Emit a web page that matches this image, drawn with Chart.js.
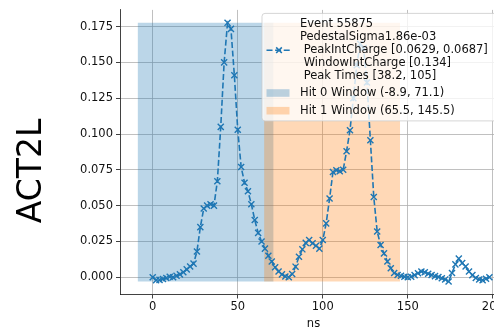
<!DOCTYPE html>
<html>
<head>
<meta charset="utf-8">
<script src="https://cdn.jsdelivr.net/npm/chart.js@4.4.1/dist/chart.umd.min.js"></script>
<style>
  html, body { margin: 0; padding: 0; background: #fff; overflow: hidden; }
  #wrap { width: 494px; height: 329px; overflow: hidden; }
</style>
</head>
<body>
<div id="wrap"><canvas id="wave" width="520" height="329"></canvas></div>
<script>
// waveform samples (ns) and integrated charge
const timeNs = [
  0, 2, 4, 6, 8, 10, 12, 14, 16, 18, 20, 22, 24, 26, 28, 30, 32, 34, 36, 38,
  40, 42, 44, 46, 48, 50, 52, 54, 56, 58, 60, 62, 64, 66, 68, 70, 72, 74, 76, 78,
  80, 82, 84, 86, 88, 90, 92, 94, 96, 98, 100, 102, 104, 106, 108, 110, 112, 114, 116, 118,
  120, 122, 124, 126, 128, 130, 132, 134, 136, 138, 140, 142, 144, 146, 148, 150, 152, 154, 156, 158,
  160, 162, 164, 166, 168, 170, 172, 174, 176, 178, 180, 182, 184, 186, 188, 190, 192, 194, 196, 198
]
const charge = [
  0.000, -0.002, -0.0018, -0.0012, -0.0005, 0.0004, 0.000, 0.001, 0.002, 0.0035,
  0.0055, 0.0075, 0.0095, 0.018, 0.035, 0.048, 0.050, 0.051, 0.050, 0.067,
  0.105, 0.150, 0.1776, 0.1734, 0.141, 0.103, 0.077, 0.066, 0.060, 0.051,
  0.040, 0.031, 0.025, 0.020, 0.015, 0.011, 0.007, 0.004, 0.002, 0.0005,
  0.000, 0.0023, 0.0074, 0.0143, 0.0195, 0.024, 0.026, 0.0237, 0.022, 0.020,
  0.026, 0.0376, 0.055, 0.0735, 0.0747, 0.074, 0.075, 0.088, 0.1026, 0.125,
  0.148, 0.163, 0.160, 0.136, 0.0956, 0.056, 0.032, 0.0225, 0.0167, 0.011,
  0.0063, 0.003, 0.0016, 0.001, 0.0004, 0.000, 0.0004, 0.0015, 0.0028, 0.004,
  0.0035, 0.0025, 0.0016, 0.0008, 0.0002, -0.0007, -0.0015, -0.003, 0.003, 0.009,
  0.013, 0.010, 0.0075, 0.004, 0.0015, -0.0005, -0.0015, -0.002, -0.001, 0.000
]

// hit windows
const hitStart = [-8.9, 65.5]
const hitEnd = [71.1, 145.5]
const hitColors = ['rgba(31,119,180,0.3)', 'rgba(255,127,14,0.3)']

const infoLines = [
  'Event 55875',
  'PedestalSigma1.86e-03',
  ' PeakIntCharge [0.0629, 0.0687]',
  ' WindowIntCharge [0.134]',
  ' Peak Times [38.2, 105]'
]

const xTicks = [0, 50, 100, 150, 200]
const yTicks = [0, 0.025, 0.05, 0.075, 0.1, 0.125, 0.15, 0.175]
const xLabel = 'ns'
const yLabel = 'ACT2L'

const lineColor = '#1f77b4'
const textColor = '#111'
const font = '"DejaVu Sans", sans-serif'

const spanTop = Math.max(...charge)
const spanBottom = Math.min(...charge)

// matplotlib-like 5% margins
const xLo = Math.min(...hitStart, ...timeNs)
const xHi = Math.max(...hitEnd, ...timeNs)
const yLo = spanBottom, yHi = spanTop
const xPad = (xHi - xLo) * 0.05
const yPad = (yHi - yLo) * 0.05

const points = timeNs.map((t, i) => ({ x: t, y: charge[i] }))

const windowSets = hitStart.map((s, i) => ({
  data: [{ x: s, y: spanTop }, { x: hitEnd[i], y: spanTop }],
  backgroundColor: hitColors[i],
  borderWidth: 0,
  pointRadius: 0,
  fill: { value: spanBottom },
  order: 2 - i
}))

const sideLabel = {
  id: 'sideLabel',
  afterDraw(chart) {
    const ctx = chart.ctx
    ctx.save()
    ctx.translate(40.5, 171)
    ctx.rotate(-Math.PI / 2)
    ctx.font = '33px ' + font
    ctx.fillStyle = '#000'
    ctx.textAlign = 'center'
    ctx.textBaseline = 'alphabetic'
    ctx.fillText(yLabel, 0, 0)
    ctx.restore()
  }
}

const infoBox = {
  id: 'infoBox',
  afterDraw(chart) {
    const ctx = chart.ctx
    const area = chart.chartArea
    ctx.save()
    ctx.font = '11.5px ' + font
    const labels = infoLines.concat(hitStart.map((s, i) => `Hit ${i} Window (${s}, ${hitEnd[i]})`))
    const right = area.right - 5
    const top = area.top + 3.5
    const left = area.right - 245
    const bottom = top + 107.5

    ctx.beginPath()
    ctx.roundRect(left, top, right - left, bottom - top, 3)
    ctx.fillStyle = 'rgba(255,255,255,0.8)'
    ctx.fill()
    ctx.strokeStyle = 'rgba(204,204,204,0.8)'
    ctx.lineWidth = 1
    ctx.stroke()

    ctx.fillStyle = textColor
    ctx.textBaseline = 'middle'
    ctx.textAlign = 'left'
    const tx = left + 38
    infoLines.forEach((l, i) => ctx.fillText(l, tx, top + 10.6 + i * 13.1))

    // dashed line handle with marker
    const hy = top + 10.6 + 2 * 13.1
    ctx.beginPath()
    ctx.setLineDash([6, 2.6])
    ctx.strokeStyle = lineColor
    ctx.lineWidth = 1.6
    ctx.moveTo(left + 4.5, hy)
    ctx.lineTo(left + 29.5, hy)
    ctx.stroke()
    ctx.setLineDash([])
    Chart.helpers.drawPoint(ctx, { pointStyle: 'crossRot', radius: 4, borderWidth: 1.3 }, left + 17, hy)

    hitStart.forEach((s, i) => {
      const ry = top + 79.6 + i * 17.7
      ctx.fillStyle = hitColors[i]
      ctx.fillRect(left + 4.5, ry - 3.8, 23, 7.6)
      ctx.fillStyle = textColor
      ctx.fillText(labels[infoLines.length + i], tx, ry)
    })
    ctx.restore()
  }
}

const el = document.getElementById('wave')
const ctx = el.getContext('2d')
// eslint-disable-next-line no-unused-vars
const chart = new Chart(ctx, {
  type: 'line',
  data: {
    datasets: [{
      data: points,
      borderColor: lineColor,
      borderWidth: 1.6,
      borderDash: [6, 2.6],
      pointStyle: 'crossRot',
      pointRadius: 4.3,
      pointBorderWidth: 1.4,
      pointBorderColor: lineColor,
      pointBackgroundColor: lineColor,
      tension: 0,
      fill: false,
      order: 0
    }].concat(windowSets)
  },
  options: {
    responsive: false,
    animation: false,
    devicePixelRatio: 1,
    layout: { padding: { left: 0, right: 13, top: 9, bottom: 0 } },
    plugins: { legend: { display: false }, tooltip: { enabled: false } },
    scales: {
      x: {
        type: 'linear',
        min: xLo - xPad,
        max: xHi + xPad,
        afterBuildTicks: s => { s.ticks = xTicks.map(v => ({ value: v })) },
        afterFit: s => { s.height = 34.5 },
        ticks: { color: textColor, font: { family: font, size: 11.5 }, padding: 2, maxRotation: 0 },
        grid: { color: '#b0b0b0', lineWidth: 0.8, tickLength: 4, tickColor: textColor, tickWidth: 0.8 },
        border: { color: textColor, width: 0.8 },
        title: { display: true, text: xLabel, color: textColor, font: { family: font, size: 11.5 }, padding: { top: 0, bottom: -2 } }
      },
      y: {
        min: yLo - yPad,
        max: yHi + yPad,
        afterBuildTicks: s => { s.ticks = yTicks.map(v => ({ value: v })) },
        afterFit: s => { s.width = 120 },
        ticks: { color: textColor, font: { family: font, size: 11.5 }, padding: 3, callback: v => v.toFixed(3) },
        grid: { color: '#b0b0b0', lineWidth: 0.8, tickLength: 4, tickColor: textColor, tickWidth: 0.8 },
        border: { color: textColor, width: 0.8 }
      }
    }
  },
  plugins: [sideLabel, infoBox]
})
</script>
</body>
</html>
